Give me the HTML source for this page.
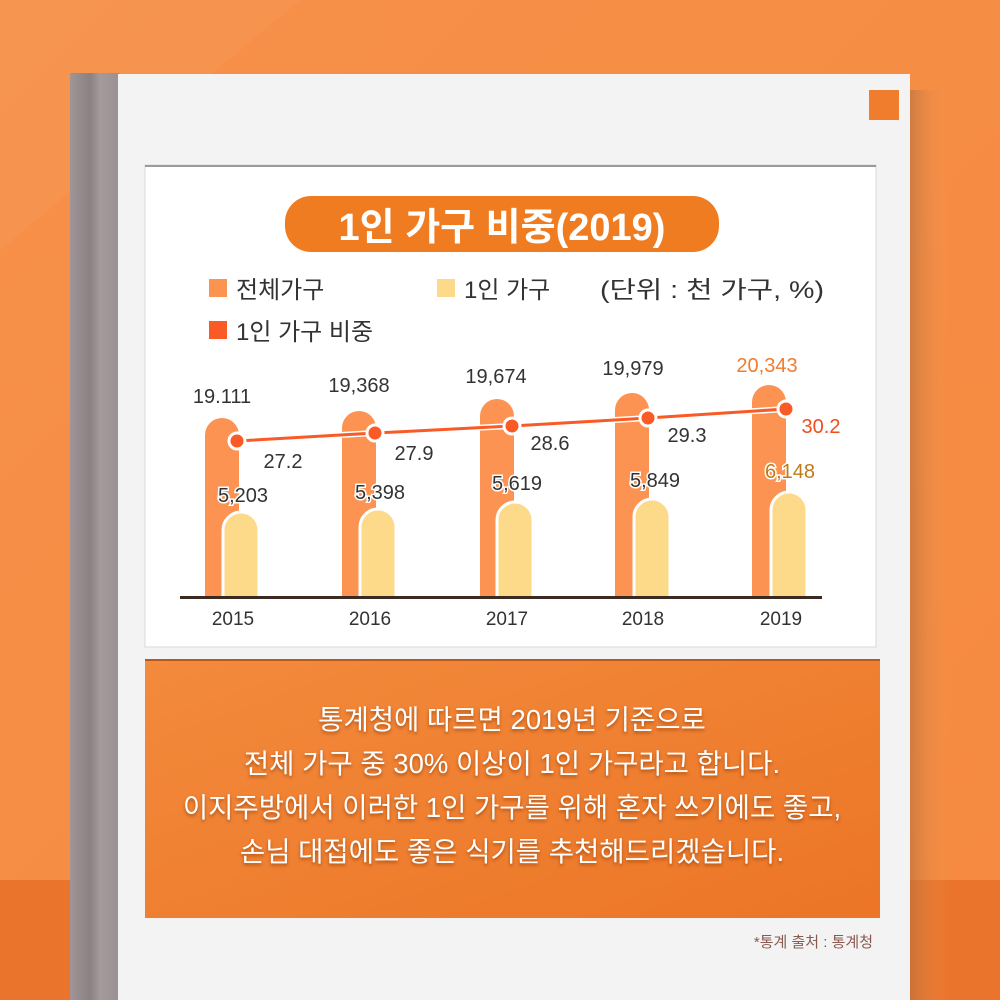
<!DOCTYPE html>
<html><head><meta charset="utf-8"><style>
body{margin:0;width:1000px;height:1000px;overflow:hidden;font-family:"Liberation Sans","Noto Sans CJK KR",sans-serif;}
</style></head><body>
<svg width="1000" height="1000" xmlns="http://www.w3.org/2000/svg" font-family="Liberation Sans, Noto Sans CJK KR, sans-serif">
<defs>
<linearGradient id="bg" x1="0" y1="0" x2="1" y2="1"><stop offset="0" stop-color="#f7904a"/><stop offset="1" stop-color="#f58a3f"/></linearGradient>
<linearGradient id="ob" x1="0" y1="0" x2="1" y2="1"><stop offset="0" stop-color="#f38a3c"/><stop offset="1" stop-color="#ec7526"/></linearGradient>
<linearGradient id="sp" x1="0" y1="0" x2="1" y2="0"><stop offset="0" stop-color="#a09597"/><stop offset="0.4" stop-color="#8b8183"/><stop offset="0.6" stop-color="#a49a9c"/><stop offset="1" stop-color="#9a9092"/></linearGradient>
<linearGradient id="sh" x1="0" y1="0" x2="1" y2="0"><stop offset="0" stop-color="#b8703f"/><stop offset="1" stop-color="#f59a55" stop-opacity="0"/></linearGradient>
</defs>
<rect width="1000" height="1000" fill="url(#bg)"/>
<polygon points="0,0 300,0 0,250" fill="#f59a55" opacity="0.5"/>
<rect x="0" y="880" width="1000" height="120" fill="#ea742b"/>
<rect x="910" y="90" width="40" height="910" fill="url(#sh)" opacity="0.6"/>
<rect x="70" y="73" width="50" height="927" fill="url(#sp)"/>
<rect x="118" y="74" width="792" height="926" fill="#f3f3f3"/>
<rect x="869" y="90" width="30" height="30" fill="#f07c2e"/>
<rect x="145" y="165" width="731" height="482" fill="#ffffff" stroke="#d8d8d8"/>
<rect x="145" y="165" width="731" height="2" fill="#9a9a9a"/>
<rect x="285" y="196" width="434" height="56" rx="26" fill="#f07c22"/>
<text x="502" y="240" font-size="38" font-weight="bold" fill="#fff" text-anchor="middle">1인 가구 비중(2019)</text>
<rect x="209" y="279" width="18" height="18" fill="#fb9450"/>
<text x="236" y="298" font-size="24" fill="#333">전체가구</text>
<rect x="437" y="279" width="18" height="18" fill="#fdd98a"/>
<text x="464" y="298" font-size="24" fill="#333">1인 가구</text>
<text x="600" y="298" font-size="24" fill="#333" textLength="224" lengthAdjust="spacingAndGlyphs">(단위 : 천 가구, %)</text>
<rect x="209" y="321" width="18" height="18" fill="#fa5a25"/>
<text x="236" y="340" font-size="24" fill="#333">1인 가구 비중</text>
<g>
<path d="M205 598V435a17 17 0 0 1 34 0V598Z" fill="#fc9352"/>
<path d="M342 598V428a17 17 0 0 1 34 0V598Z" fill="#fc9352"/>
<path d="M480 598V416a17 17 0 0 1 34 0V598Z" fill="#fc9352"/>
<path d="M615 598V410a17 17 0 0 1 34 0V598Z" fill="#fc9352"/>
<path d="M752 598V402a17 17 0 0 1 34 0V598Z" fill="#fc9352"/>
<g fill="#fdd98a" stroke="#fff" stroke-width="3">
<path d="M223 598V530a18 18 0 0 1 36 0V598"/>
<path d="M360 598V527a18 18 0 0 1 36 0V598"/>
<path d="M497 598V520a18 18 0 0 1 36 0V598"/>
<path d="M634 598V517a18 18 0 0 1 36 0V598"/>
<path d="M771 598V510a18 18 0 0 1 36 0V598"/>
</g>
</g>
<rect x="180" y="596" width="642" height="3" fill="#3a2a22"/>
<polyline points="237,441 375,433 512,426 648,418 786,409" fill="none" stroke="#fff" stroke-width="6"/>
<polyline points="237,441 375,433 512,426 648,418 786,409" fill="none" stroke="#fa5a25" stroke-width="3"/>
<g fill="#fa5a25" stroke="#fff" stroke-width="3">
<circle cx="237" cy="441" r="8"/><circle cx="375" cy="433" r="8"/><circle cx="512" cy="426" r="8"/><circle cx="648" cy="418" r="8"/><circle cx="786" cy="409" r="8"/>
</g>
<g font-size="20" fill="#333" text-anchor="middle" paint-order="stroke" stroke="#fff" stroke-width="3">
<text x="222" y="403">19.111</text><text x="359" y="392">19,368</text><text x="496" y="383">19,674</text><text x="633" y="375">19,979</text><text x="767" y="372" fill="#f07c2e">20,343</text>
<text x="283" y="468">27.2</text><text x="414" y="460">27.9</text><text x="550" y="450">28.6</text><text x="687" y="442">29.3</text><text x="821" y="433" fill="#ee4e1e">30.2</text>
<text x="243" y="502">5,203</text><text x="380" y="499">5,398</text><text x="517" y="490">5,619</text><text x="655" y="487">5,849</text><text x="790" y="478" fill="#c07a18">6,148</text>
</g>
<g font-size="19" fill="#333" text-anchor="middle">
<text x="233" y="625">2015</text><text x="370" y="625">2016</text><text x="507" y="625">2017</text><text x="643" y="625">2018</text><text x="781" y="625">2019</text>
</g>
<rect x="145" y="659" width="735" height="259" fill="url(#ob)"/>
<rect x="145" y="659" width="735" height="2" fill="#b85a20"/>
<g font-size="27.5" fill="#fff" text-anchor="middle" style="text-shadow:0 2px 3px rgba(120,50,0,0.6)">
<text x="512" y="729">통계청에 따르면 2019년 기준으로</text>
<text x="512" y="773">전체 가구 중 30% 이상이 1인 가구라고 합니다.</text>
<text x="512" y="817">이지주방에서 이러한 1인 가구를 위해 혼자 쓰기에도 좋고,</text>
<text x="512" y="861">손님 대접에도 좋은 식기를 추천해드리겠습니다.</text>
</g>
<text x="873" y="947" font-size="15" fill="#8a5a50" text-anchor="end">*통계 출처 : 통계청</text>
</svg>
</body></html>
